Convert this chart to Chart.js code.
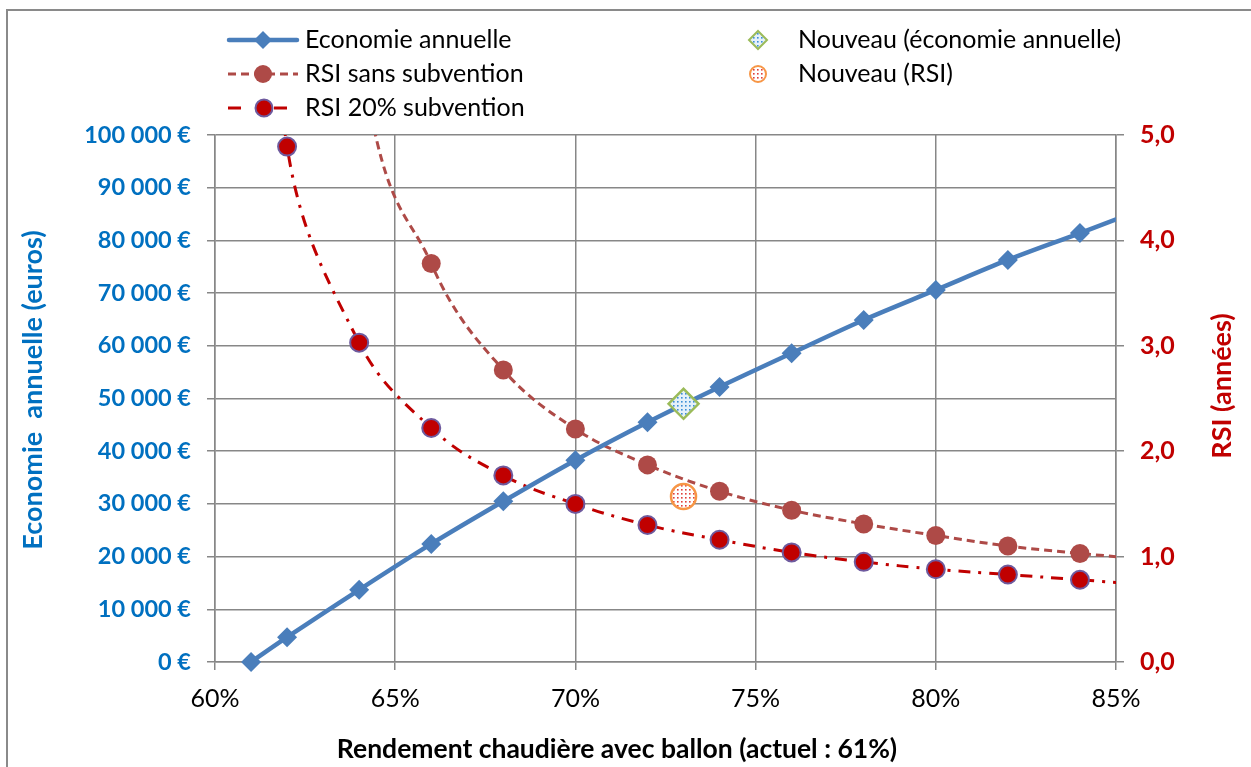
<!DOCTYPE html>
<html>
<head>
<meta charset="utf-8">
<script src="https://cdn.jsdelivr.net/npm/chart.js@4.4.1/dist/chart.umd.min.js"></script>
<style>
  html, body { margin: 0; padding: 0; background: #fff; overflow: hidden; }
  #frame { position: absolute; left: 6px; top: 9px; width: 1400px; height: 900px; border: 2px solid #8a8a8a; }
  #wrap { position: absolute; left: 0; top: 0; width: 1251px; height: 767px; }
</style>
</head>
<body>
<div id="frame"></div>
<div id="wrap"><canvas id="c" width="1251" height="767"></canvas></div>
<script>
// ---- Data ----
const ecoX   = [61, 62, 64, 66, 68, 70, 72, 74, 76, 78, 80, 82, 84, 86];
const ecoY   = [0, 4700, 13700, 22400, 30500, 38300, 45500, 52200, 58600, 64900, 70600, 76300, 81400, 86600];
const rsiSansX = [62, 64, 66, 68, 70, 72, 74, 76, 78, 80, 82, 84, 86];
const rsiSansY = [13.9, 5.9, 3.78, 2.77, 2.21, 1.87, 1.62, 1.44, 1.31, 1.20, 1.10, 1.03, 0.97];
const rsi20X = [61, 62, 64, 66, 68, 70, 72, 74, 76, 78, 80, 82, 84, 86];
const rsi20Y = [9.5, 4.89, 3.03, 2.22, 1.77, 1.50, 1.30, 1.16, 1.04, 0.95, 0.88, 0.83, 0.78, 0.73];
const nouveauX = [73];
const nouveauEco = [49000];
const nouveauRsi = [1.57];
const xTicks = [60, 65, 70, 75, 80, 85];
const seriesNames = ['Economie annuelle', 'RSI sans subvention', 'RSI 20% subvention', 'Nouveau (économie annuelle)', 'Nouveau (RSI)'];
const xTitle = 'Rendement chaudière avec ballon (actuel : 61%)';
const yTitle = 'Economie  annuelle (euros)';
const y2Title = 'RSI (années)';

const FONT = 'Lato, "Open Sans", sans-serif';
const BLUE = '#4A7EBB', RSIC = '#AE4A47', RED = '#C00000', GRID = '#878787', TBLUE = '#0070C0';

function pts(xs, ys) { return xs.map((x, i) => ({ x: x, y: ys[i] })); }
function makePattern(bg, dot) {
  const c = document.createElement('canvas'); c.width = 4; c.height = 4;
  const g = c.getContext('2d');
  g.fillStyle = bg; g.fillRect(0, 0, 4, 4);
  g.fillStyle = dot; g.fillRect(1, 1, 1.6, 1.6);
  return g.createPattern(c, 'repeat');
}
const patBlue = makePattern('#E4F0FA', '#3D8FD6');
const patRed = makePattern('#FFFFFF', '#E0403A');

function fmtEuro(v) { return String(v).replace(/\B(?=(\d{3})+(?!\d))/g, ' ') + ' €'; }

function drawDiamond(ctx, x, y, r, fill, stroke, lw) {
  ctx.beginPath(); ctx.moveTo(x, y - r); ctx.lineTo(x + r, y); ctx.lineTo(x, y + r); ctx.lineTo(x - r, y); ctx.closePath();
  ctx.fillStyle = fill; ctx.fill();
  if (stroke) { ctx.lineWidth = lw; ctx.strokeStyle = stroke; ctx.stroke(); }
}
function drawCircle(ctx, x, y, r, fill, stroke, lw) {
  ctx.beginPath(); ctx.arc(x, y, r, 0, Math.PI * 2);
  ctx.fillStyle = fill; ctx.fill();
  if (stroke) { ctx.lineWidth = lw; ctx.strokeStyle = stroke; ctx.stroke(); }
}

const extras = {
  id: 'extras',
  afterDraw(chart) {
    const ctx = chart.ctx;
    ctx.save();
    // Legend
    ctx.font = '25px ' + FONT; ctx.fillStyle = '#000'; ctx.textBaseline = 'middle'; ctx.textAlign = 'left';
    const rows = [40, 74, 108];
    // item 1
    ctx.setLineDash([]); ctx.strokeStyle = BLUE; ctx.lineWidth = 4.5; ctx.lineCap = 'round';
    ctx.beginPath(); ctx.moveTo(229, rows[0]); ctx.lineTo(297, rows[0]); ctx.stroke();
    drawDiamond(ctx, 263, rows[0], 9, BLUE);
    ctx.fillStyle = '#000'; ctx.fillText(seriesNames[0], 305, rows[0]);
    // item 2
    ctx.lineCap = 'butt'; ctx.strokeStyle = RSIC; ctx.lineWidth = 3; ctx.setLineDash([8, 5]);
    ctx.beginPath(); ctx.moveTo(228, rows[1]); ctx.lineTo(298, rows[1]); ctx.stroke();
    ctx.setLineDash([]);
    drawCircle(ctx, 263, rows[1], 9, RSIC);
    ctx.fillStyle = '#000'; ctx.fillText(seriesNames[1], 305, rows[1]);
    // item 3
    ctx.strokeStyle = RED; ctx.lineWidth = 3;
    ctx.beginPath(); ctx.moveTo(228, rows[2]); ctx.lineTo(241, rows[2]); ctx.moveTo(274, rows[2]); ctx.lineTo(287, rows[2]); ctx.stroke();
    drawCircle(ctx, 264, rows[2], 8.5, RED, '#6E5A9E', 2);
    ctx.fillStyle = '#000'; ctx.fillText(seriesNames[2], 305, rows[2]);
    // right column
    drawDiamond(ctx, 758, rows[0], 9, patBlue, '#9BBB59', 2);
    ctx.fillStyle = '#000'; ctx.fillText(seriesNames[3], 798, rows[0]);
    drawCircle(ctx, 758, rows[1], 8, patRed, '#F79646', 2);
    ctx.fillStyle = '#000'; ctx.fillText(seriesNames[4], 798, rows[1]);

    // X axis title
    ctx.font = 'bold 26.5px ' + FONT; ctx.textAlign = 'center'; ctx.fillStyle = '#000';
    ctx.fillText(xTitle, 617, 749);
    // Left axis title (reads bottom to top)
    ctx.save();
    ctx.font = 'bold 27px ' + FONT;
    ctx.translate(33, 390); ctx.rotate(-Math.PI / 2);
    ctx.fillStyle = TBLUE; ctx.fillText(yTitle, 0, 0);
    ctx.restore();
    // Right axis title (reads bottom to top)
    ctx.font = 'bold 27px ' + FONT;
    ctx.translate(1222, 386); ctx.rotate(-Math.PI / 2);
    ctx.fillStyle = RED; ctx.fillText(y2Title, 0, 0);
    ctx.restore();
  }
};

new Chart(document.getElementById('c'), {
  type: 'line',
  data: {
    datasets: [
      { label: seriesNames[3], data: pts(nouveauX, nouveauEco), yAxisID: 'y', showLine: false, order: 0,
        pointStyle: 'rectRot', pointRadius: 15, pointBackgroundColor: patBlue, pointBorderColor: '#9BBB59', pointBorderWidth: 2.5, clip: false },
      { label: seriesNames[4], data: pts(nouveauX, nouveauRsi), yAxisID: 'y2', showLine: false, order: 0,
        pointStyle: 'circle', pointRadius: 12.5, pointBackgroundColor: patRed, pointBorderColor: '#F79646', pointBorderWidth: 2.5, clip: false },
      { label: seriesNames[0], data: pts(ecoX, ecoY), yAxisID: 'y', order: 1,
        borderColor: BLUE, borderWidth: 4.5, cubicInterpolationMode: 'monotone',
        pointStyle: 'rectRot', pointRadius: 10, pointBackgroundColor: BLUE, pointBorderColor: BLUE, pointBorderWidth: 0,
        clip: { left: 12, top: 0, right: 0, bottom: 12 } },
      { label: seriesNames[1], data: pts(rsiSansX, rsiSansY), yAxisID: 'y2', order: 2,
        borderColor: RSIC, borderWidth: 3, borderDash: [8, 5], cubicInterpolationMode: 'monotone',
        pointStyle: 'circle', pointRadius: 9.5, pointBackgroundColor: RSIC, pointBorderColor: RSIC, pointBorderWidth: 0,
        clip: { left: 0, top: 0, right: 0, bottom: 12 } },
      { label: seriesNames[2], data: pts(rsi20X, rsi20Y), yAxisID: 'y2', order: 3,
        borderColor: RED, borderWidth: 3, borderDash: [12, 8, 3, 8], tension: 0.4,
        pointStyle: 'circle', pointRadius: 9, pointBackgroundColor: RED, pointBorderColor: '#6E5A9E', pointBorderWidth: 2,
        clip: { left: 0, top: 0, right: 0, bottom: 12 } }
    ]
  },
  options: {
    responsive: false, animation: false, events: [],
    layout: { padding: { top: 135, left: 0, right: 0, bottom: 0 } },
    plugins: { legend: { display: false }, tooltip: { enabled: false }, title: { display: false } },
    scales: {
      x: {
        type: 'linear', min: 60, max: 85,
        afterBuildTicks: s => { s.ticks = xTicks.map(v => ({ value: v })); },
        afterFit: s => { s.height = 105; },
        ticks: { callback: v => v + '%', color: '#000', font: { family: FONT, size: 25 }, padding: 14, maxRotation: 0 },
        grid: { color: GRID, lineWidth: 1.5, tickLength: 8, tickColor: GRID },
        border: { color: GRID, width: 1.5 }
      },
      y: {
        position: 'left', min: 0, max: 100000,
        ticks: { stepSize: 10000, callback: v => fmtEuro(v), color: TBLUE, font: { family: FONT, size: 23.5, weight: 'bold' }, padding: 16 },
        afterFit: s => { s.width = 215; },
        grid: { color: GRID, lineWidth: 1.5, tickLength: 8, tickColor: GRID },
        border: { color: GRID, width: 1.5 }
      },
      y2: {
        position: 'right', min: 0, max: 5,
        ticks: { stepSize: 1, callback: v => v.toFixed(1).replace('.', ','), color: RED, font: { family: FONT, size: 25, weight: 'bold' }, padding: 16 },
        afterFit: s => { s.width = 135; },
        grid: { drawOnChartArea: false, color: GRID, lineWidth: 1.5, tickLength: 8, tickColor: GRID },
        border: { color: GRID, width: 1.5 }
      }
    }
  },
  plugins: [extras]
});
</script>
</body>
</html>
